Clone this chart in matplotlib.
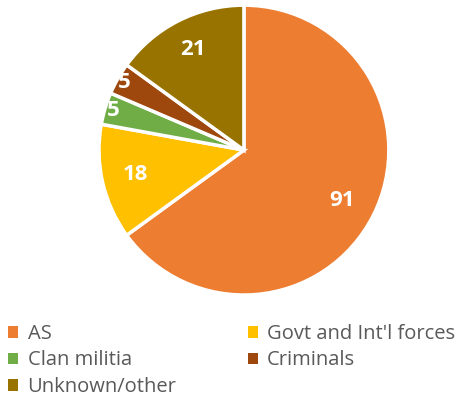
import matplotlib.pyplot as plt
import numpy as np

labels = ['AS', 'Govt and Int\'l forces', 'Clan militia', 'Criminals', 'Unknown/other']
values = [91, 18, 5, 5, 21]
colors = ['#ED7D31', '#FFC000', '#70AD47', '#9E480E', '#997300']
label_dist = [0.76, 0.77, 0.94, 0.95, 0.78]

plt.rcParams['font.family'] = ['Open Sans', 'DejaVu Sans']

fig = plt.figure(figsize=(4.66, 3.96), dpi=100)
ax = fig.add_axes([0.2124, 0.255, 0.622, 0.732])

wedges, _ = ax.pie(values, colors=colors, startangle=90, counterclock=False,
                   radius=1, wedgeprops=dict(edgecolor='white', linewidth=2.5))

for w, v, d in zip(wedges, values, label_dist):
    mid = np.deg2rad((w.theta1 + w.theta2) / 2)
    ax.text(d * np.cos(mid), d * np.sin(mid), str(v), ha='center', va='center',
            color='white', fontsize=16, fontweight='bold')

ax.set_xlim(-1.0, 1.0)
ax.set_ylim(-1.0, 1.0)
ax.set_aspect('equal')
ax.axis('off')

# row-first order for a 2-column legend
order = [0, 2, 4, 1, 3]
leg = fig.legend([wedges[i] for i in order], [labels[i] for i in order],
                 ncol=2, loc='upper left', bbox_to_anchor=(0.005, 0.197),
                 frameon=False, fontsize=14.5, handlelength=0.5, handleheight=0.5,
                 handletextpad=0.45, columnspacing=3.55, labelspacing=0.32,
                 borderaxespad=0, borderpad=0.3)
for t in leg.get_texts():
    t.set_color('#595959')
for h in leg.legend_handles:
    h.set_edgecolor('none')

fig.savefig('out.png', dpi=100)
